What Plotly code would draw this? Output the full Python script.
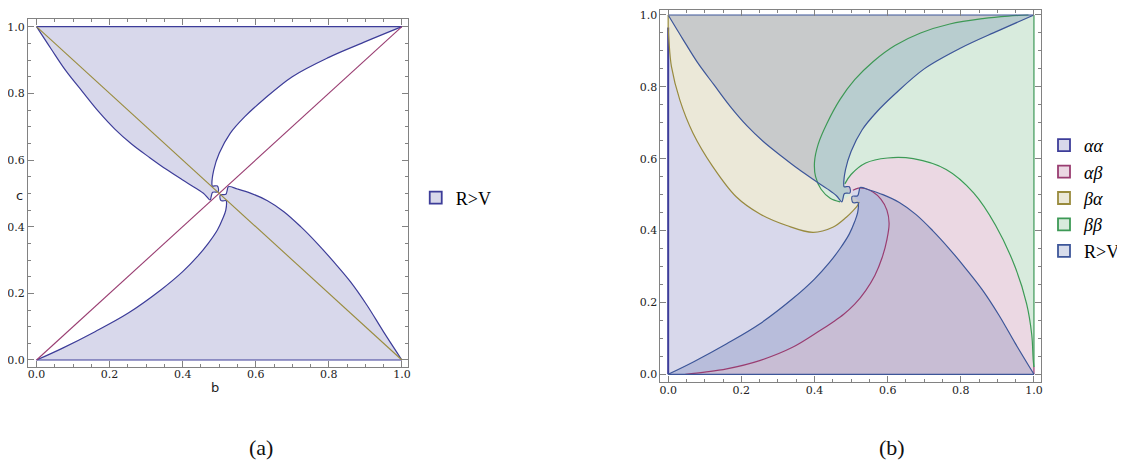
import plotly.graph_objects as go

# ---------------- data ----------------
# R>V boundary curves (same function in both panels)
BUL_b = [0.0, 0.04, 0.08, 0.125, 0.17, 0.215, 0.26, 0.31, 0.355, 0.40, 0.435, 0.46, 0.475]
BUL_c = [1.0, 0.933, 0.868, 0.806, 0.745, 0.692, 0.648, 0.607, 0.572, 0.54, 0.516, 0.497, 0.48]
BUR_b = [1.0, 0.90, 0.80, 0.70, 0.62, 0.57, 0.53, 0.50, 0.485, 0.48]
BUR_c = [1.0, 0.955, 0.908, 0.85, 0.78, 0.73, 0.68, 0.62, 0.57, 0.527]
WU_b = [0.481, 0.495, 0.497, 0.482, 0.478]
WU_c = [0.522, 0.522, 0.505, 0.503, 0.49]
BLL_b = [0.0, 0.07, 0.16, 0.25, 0.34, 0.40, 0.44, 0.47, 0.495, 0.51, 0.518, 0.52]
BLL_c = [0.0, 0.035, 0.085, 0.14, 0.21, 0.265, 0.31, 0.35, 0.39, 0.425, 0.45, 0.473]
WL_b = [0.519, 0.505, 0.503, 0.518, 0.522]
WL_c = [0.478, 0.478, 0.495, 0.497, 0.51]
BLR_b = [1.0, 0.949, 0.904, 0.859, 0.813, 0.768, 0.723, 0.677, 0.632, 0.587, 0.55, 0.525]
BLR_c = [0.0, 0.086, 0.165, 0.235, 0.295, 0.35, 0.40, 0.445, 0.478, 0.50, 0.513, 0.52]

# diagonals in panel (a)
DIAG_b = [0.0, 1.0]
DIAG_up = [0.0, 1.0]
DIAG_down = [1.0, 0.0]

# panel (b) region boundaries
OLV_b = [0.0, 0.002, 0.009, 0.032, 0.068, 0.122, 0.186, 0.251, 0.324, 0.396, 0.45, 0.487, 0.505, 0.518, 0.522]
OLV_c = [0.965, 0.93, 0.856, 0.763, 0.671, 0.578, 0.494, 0.446, 0.414, 0.395, 0.409, 0.437, 0.455, 0.47, 0.48]
CRM_b = [0.047, 0.10, 0.16, 0.25, 0.34, 0.414, 0.45, 0.48, 0.51, 0.54, 0.565, 0.585, 0.598, 0.604,
         0.598, 0.582, 0.56, 0.538, 0.52, 0.505]
CRM_c = [0.0, 0.006, 0.015, 0.038, 0.075, 0.121, 0.145, 0.167, 0.195, 0.233, 0.275, 0.325, 0.375, 0.42,
         0.457, 0.487, 0.507, 0.517, 0.518, 0.512]
GU_b = [0.985, 0.93, 0.86, 0.77, 0.69, 0.62, 0.56, 0.51, 0.47, 0.435, 0.41, 0.40, 0.403, 0.418, 0.443, 0.47]
GU_c = [1.0, 0.997, 0.99, 0.975, 0.95, 0.915, 0.87, 0.82, 0.765, 0.70, 0.64, 0.59, 0.55, 0.515, 0.49, 0.48]
GL_b = [0.483, 0.50, 0.54, 0.60, 0.67, 0.76, 0.835, 0.895, 0.948, 0.98, 0.994, 0.998, 1.0]
GL_c = [0.53, 0.556, 0.588, 0.602, 0.60, 0.57, 0.505, 0.415, 0.30, 0.196, 0.11, 0.04, 0.02]
CEN_b = [0.5]   # point where the four regions meet
CEN_c = [0.5]

LO, HI = 0.0, 1.0   # edges of the unit square

NAMES = ["<i>αα</i>", "<i>αβ</i>", "<i>βα</i>", "<i>ββ</i>", "R>V"]
EDGE = ["rgb(61,61,153)", "rgb(153,61,113)", "rgb(153,139,61)", "rgb(61,153,86)", "rgb(61,86,153)"]
FILL = ["rgba(61,61,153,0.2)", "rgba(153,61,113,0.2)", "rgba(153,139,61,0.2)", "rgba(61,153,86,0.2)", "rgba(61,86,153,0.2)"]
SWATCH = ["rgb(216,216,234)", "rgb(235,216,227)", "rgb(235,232,216)", "rgb(216,235,221)", "rgb(216,221,235)"]

# ---------------- polygons ----------------
upc_x = BUR_b + WU_b + BUL_b[::-1]
upc_y = BUR_c + WU_c + BUL_c[::-1]
dnc_x = BLL_b + WL_b + BLR_b[::-1]
dnc_y = BLL_c + WL_c + BLR_c[::-1]
rv_x = upc_x + [None] + dnc_x
rv_y = upc_y + [None] + dnc_y

aa_x = [LO] + OLV_b + CEN_b + CRM_b[::-1]
aa_y = [LO] + OLV_c + CEN_c + CRM_c[::-1]
ab_x = CRM_b + CEN_b + GL_b + [HI]
ab_y = CRM_c + CEN_c + GL_c + [LO]
ba_x = [LO] + GU_b + CEN_b + OLV_b[::-1]
ba_y = [HI] + GU_c + CEN_c + OLV_c[::-1]
bb_x = [HI] + GL_b[::-1] + CEN_b + GU_b[::-1]
bb_y = [HI] + GL_c[::-1] + CEN_c + GU_c[::-1]

fig = go.Figure()
LW = 1.2
SM = 1.0


def fill(xs, ys, color, ax):
    fig.add_trace(go.Scatter(x=xs, y=ys, fill="toself", fillcolor=color, mode="none",
                             showlegend=False, hoverinfo="skip", xaxis=ax[0], yaxis=ax[1]))


def curve(xs, ys, color, ax, width=LW, smooth=True):
    line = dict(color=color, width=width)
    if smooth:
        line.update(shape="spline", smoothing=SM)
    fig.add_trace(go.Scatter(x=xs, y=ys, mode="lines", line=line, showlegend=False,
                             hoverinfo="skip", xaxis=ax[0], yaxis=ax[1]))


A = ("x", "y")
B = ("x2", "y2")

# ---- panel (a) ----
fill(rv_x, rv_y, FILL[0], A)
curve(upc_x, upc_y, EDGE[0], A)
curve(dnc_x, dnc_y, EDGE[0], A)
curve([LO, HI], [HI, HI], EDGE[0], A, smooth=False)
curve([LO, HI], [LO, LO], EDGE[0], A, smooth=False)
curve(DIAG_b, DIAG_up, EDGE[1], A, width=1.1, smooth=False)
curve(DIAG_b, DIAG_down, EDGE[2], A, width=1.1, smooth=False)
fig.add_trace(go.Scatter(x=[None], y=[None], mode="markers", name="R>V", legend="legend",
                         marker=dict(symbol="square", size=12, color=SWATCH[0],
                                     line=dict(color=EDGE[0], width=1.8)),
                         xaxis="x", yaxis="y"))

# ---- panel (b) ----
fill(aa_x, aa_y, FILL[0], B)
fill(ab_x, ab_y, FILL[1], B)
fill(ba_x, ba_y, FILL[2], B)
fill(bb_x, bb_y, FILL[3], B)
fill(rv_x, rv_y, FILL[4], B)
curve([LO, LO], [LO, OLV_c[0]], EDGE[0], B, width=2.0, smooth=False)
curve([LO, LO], [OLV_c[0], HI], EDGE[2], B, smooth=False)
curve([HI, HI], [LO, GL_c[-1]], EDGE[1], B, smooth=False)
curve([HI, HI], [GL_c[-1], HI], EDGE[3], B, smooth=False)
curve(OLV_b, OLV_c, EDGE[2], B)
curve(CRM_b, CRM_c, EDGE[1], B)
curve(GU_b, GU_c, EDGE[3], B)
curve(GL_b, GL_c, EDGE[3], B)
curve(upc_x, upc_y, EDGE[4], B)
curve(dnc_x, dnc_y, EDGE[4], B)
curve([LO, HI], [HI, HI], EDGE[4], B, smooth=False)
curve([LO, HI], [LO, LO], EDGE[4], B, smooth=False)
for k in range(5):
    fig.add_trace(go.Scatter(x=[None], y=[None], mode="markers", name=NAMES[k], legend="legend2",
                             marker=dict(symbol="square", size=12, color=SWATCH[k],
                                         line=dict(color=EDGE[k], width=1.8)),
                             xaxis="x2", yaxis="y2"))

FRAME = "rgb(130,130,130)"
axis_common = dict(showline=True, linecolor=FRAME, linewidth=1, mirror="ticks", ticks="inside",
                   ticklen=6, tickcolor=FRAME, tickwidth=1, dtick=0.2, tick0=0, tickformat=".1f",
                   showgrid=False, zeroline=False,
                   tickfont=dict(family="DejaVu Serif", size=11, color="#222"),
                   minor=dict(dtick=0.05, ticks="inside", ticklen=3, tickcolor=FRAME, showgrid=False))

LEGFONT = dict(family="Liberation Serif", size=18, color="#000")
ann_font = dict(family="DejaVu Sans", size=13, color="#222")
cap_font = dict(family="Liberation Serif", size=22, color="#111")

# the page body adds an 8px margin, so the figure is 8px smaller than the window
fig.update_layout(
    width=1117, height=453, margin=dict(l=0, r=0, t=0, b=0),
    paper_bgcolor="white", plot_bgcolor="white",
    xaxis=dict(domain=[0.0179, 0.3599], range=[-0.0237, 1.0163], anchor="y",
               ticklabelstandoff=-3, **axis_common),
    yaxis=dict(domain=[0.2075, 0.9757], range=[-0.021, 1.023], anchor="x", **axis_common),
    xaxis2=dict(domain=[0.5873, 0.9299], range=[-0.021, 1.0196], anchor="y2",
                ticklabelstandoff=-2, **axis_common),
    yaxis2=dict(domain=[0.1751, 0.9956], range=[-0.0206, 1.0139], anchor="x2", **axis_common),
    legend=dict(x=0.3670, y=0.5806, xanchor="left", yanchor="middle", font=LEGFONT,
                bgcolor="rgba(0,0,0,0)"),
    legend2=dict(x=0.9328, y=0.5806, xanchor="left", yanchor="middle", font=LEGFONT,
                 bgcolor="rgba(0,0,0,0)"),
    annotations=[
        dict(text="b", x=0.1862, y=0.1612, xref="paper", yref="paper", showarrow=False,
             xanchor="center", yanchor="middle", font=ann_font),
        dict(text="c", x=0.0107, y=0.5850, xref="paper", yref="paper", showarrow=False,
             xanchor="center", yanchor="middle", font=ann_font),
        dict(text="(a)", x=0.2274, y=0.0309, xref="paper", yref="paper", showarrow=False,
             xanchor="center", yanchor="middle", font=cap_font),
        dict(text="(b)", x=0.7959, y=0.0309, xref="paper", yref="paper", showarrow=False,
             xanchor="center", yanchor="middle", font=cap_font),
    ],
)

fig.write_html("out.html")
